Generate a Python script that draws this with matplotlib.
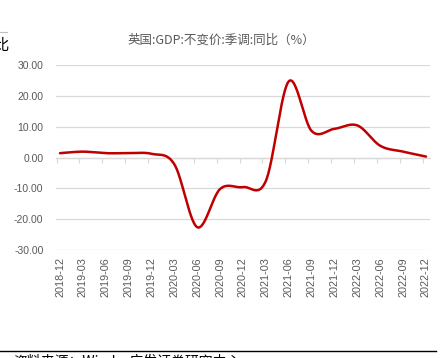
import numpy as np
import matplotlib.pyplot as plt

plt.rcParams['font.family'] = ['Noto Sans CJK SC', 'DejaVu Sans']

quarters = ["2018-12", "2019-03", "2019-06", "2019-09", "2019-12",
            "2020-03", "2020-06", "2020-09", "2020-12", "2021-03",
            "2021-06", "2021-09", "2021-12", "2022-03", "2022-06",
            "2022-09", "2022-12"]
gdp_yoy = [1.4, 1.9, 1.4, 1.4, 1.2, -2.2, -22.6, -10.2, -9.6, -7.6,
           24.7, 8.6, 9.3, 10.4, 3.8, 1.9, 0.3]
yticks = [-30, -20, -10, 0, 10, 20, 30]

title = "英国:GDP:不变价:季调:同比（%）"
source = "资料来源：Wind，广发证券研究中心"


def smooth(x, y, n=30):
    # Excel-style smoothed line (bezier through every point)
    x = np.asarray(x, float)
    y = np.asarray(y, float)
    px = np.concatenate([[x[0]], x, [x[-1]]])
    py = np.concatenate([[y[0]], y, [y[-1]]])
    xs, ys = [], []
    t = np.linspace(0, 1, n)
    for i in range(1, len(px) - 2):
        p1 = np.array([px[i], py[i]])
        p2 = np.array([px[i + 1], py[i + 1]])
        c1 = p1 + (np.array([px[i + 1], py[i + 1]]) - np.array([px[i - 1], py[i - 1]])) / 6
        c2 = p2 - (np.array([px[i + 2], py[i + 2]]) - np.array([px[i], py[i]])) / 6
        b = ((1 - t) ** 3)[:, None] * p1 + (3 * (1 - t) ** 2 * t)[:, None] * c1 \
            + (3 * (1 - t) * t ** 2)[:, None] * c2 + (t ** 3)[:, None] * p2
        xs.append(b[:, 0])
        ys.append(b[:, 1])
    return np.concatenate(xs), np.concatenate(ys)


fig = plt.figure(figsize=(4.41, 3.58), dpi=100)
ax = fig.add_axes([56 / 441, 108 / 358, 374 / 441, 185 / 358])

x = np.arange(len(quarters))
sx, sy = smooth(x, gdp_yoy)
ax.plot(sx, sy, color="#c00000", lw=1.8, zorder=3, solid_capstyle="round")

ax.set_xlim(-0.175, len(quarters) - 1 + 0.175)
ax.set_ylim(-30, 30)
ax.set_yticks(yticks)
ax.set_yticklabels([f"{v:.2f}" for v in yticks], family="Liberation Sans",
                   fontsize=7.5, color="#595959")
ax.tick_params(axis="y", length=0, pad=9)
for v in yticks:
    ax.axhline(v, color="#d9d9d9", lw=0.9, zorder=1)

for s in ["top", "right", "left"]:
    ax.spines[s].set_visible(False)
ax.spines["bottom"].set_position(("data", 0))
ax.spines["bottom"].set_color("#d9d9d9")
ax.spines["bottom"].set_linewidth(0.9)
ax.set_xticks(x - 0.15)
ax.tick_params(axis="x", labelbottom=False, length=3.5, width=0.8,
               color="#d9d9d9", direction="out")

sec = ax.secondary_xaxis("bottom")
sec.set_xticks(x)
sec.set_xticklabels(quarters, rotation=90, family="Liberation Sans",
                    fontsize=7.8, color="#595959")
sec.tick_params(length=0, pad=5)
sec.spines["bottom"].set_visible(False)

fig.text(221 / 441, 1 - 40 / 358, title, ha="center", va="center",
         fontsize=9, color="#595959")

# cropped page remnants
fig.text(9 / 441, 1 - 45 / 358, "比", ha="right", va="center",
         fontsize=11, color="black")
fig.add_artist(plt.Line2D([0, 7 / 441], [1 - 32 / 358] * 2, color="#bfbfbf", lw=0.8))
fig.add_artist(plt.Line2D([0, 436 / 441], [1 - 351 / 358] * 2, color="black", lw=1.0))
fig.text(13 / 441, 1 - 354.5 / 358, source, ha="left", va="top",
         fontsize=10, color="black")

fig.savefig("out.png", dpi=100)
